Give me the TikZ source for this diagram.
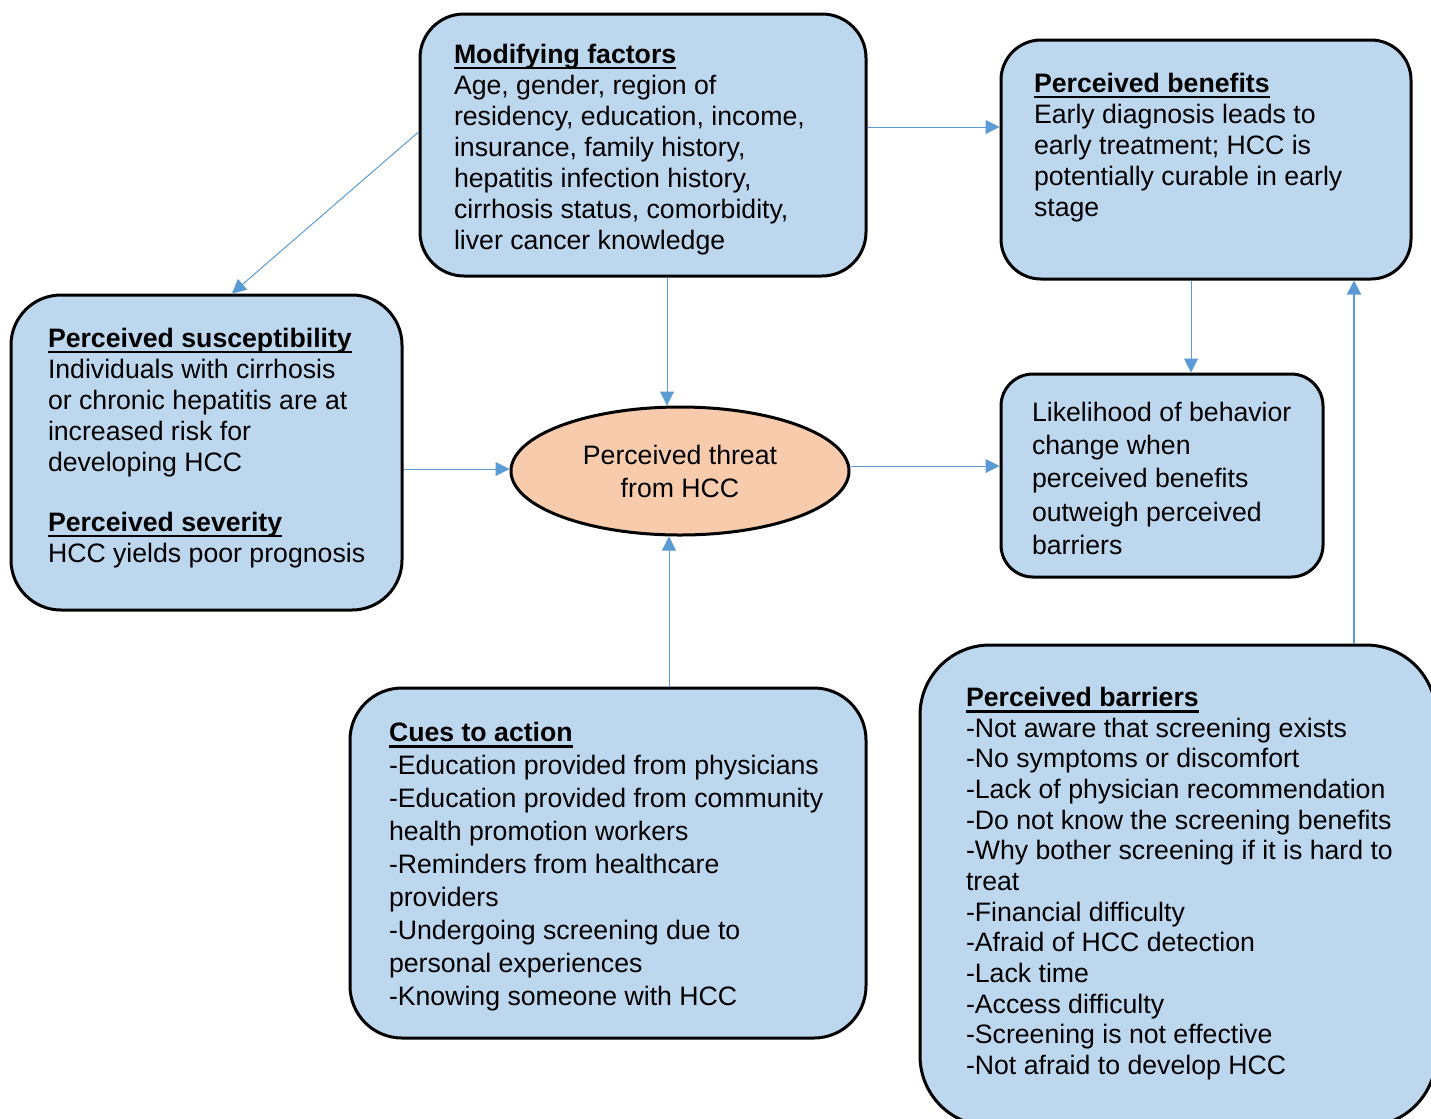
\documentclass[tikz,border=0pt]{standalone}
\usepackage{fontspec}
\setmainfont{Liberation Sans}
\usetikzlibrary{arrows.meta,shapes.geometric}

\definecolor{boxblue}{RGB}{189,215,238}
\definecolor{threatpeach}{RGB}{248,203,173}
\definecolor{lineblue}{RGB}{91,155,213}

\newsavebox{\headbox}
\newcommand{\heading}[1]{\sbox{\headbox}{\bfseries #1}\rlap{\rule[-4.5pt]{\wd\headbox}{1.8pt}}\usebox{\headbox}}

\tikzset{
	hbmbox/.style={draw=black, line width=2.25pt, fill=boxblue, rectangle, inner sep=0pt},
	hbmtext/.style={anchor=north west, inner sep=0pt, align=left, font=\fontsize{20}{23.25}\selectfont},
	hbmarrow/.style={draw=lineblue, line width=0.75pt, -{Triangle[length=10.5pt,width=10.5pt]}}}
\tikzset{every picture/.style={line width=0.75pt}}

\begin{document}
\begin{tikzpicture}[x=0.75pt,y=0.75pt,yscale=-1,xscale=1]
	\useasboundingbox (0,0) rectangle (1431,1118);
	\clip (0,0) rectangle (1431,1118);
	
	% Boxes
	\node[hbmbox, rounded corners=33pt, minimum width=334.5pt, minimum height=196.5pt] (modif) at (643,145) {};
	\node[hbmbox, rounded corners=30pt, minimum width=307.5pt, minimum height=179.25pt] (benef) at (1206,159.5) {};
	\node[hbmbox, rounded corners=37.5pt, minimum width=293.25pt, minimum height=236.25pt] (susc) at (206.5,452.5) {};
	\node[hbmbox, rounded corners=24pt, minimum width=241.5pt, minimum height=152.25pt] (likeli) at (1162,475.5) {};
	\node[hbmbox, rounded corners=39pt, minimum width=387pt, minimum height=262.5pt] (cues) at (608,863) {};
	\node[hbmbox, rounded corners=52.5pt, minimum width=387pt, minimum height=360.75pt] (barr) at (1178,885.5) {};
	% Ellipse
	\node[ellipse, draw=black, line width=2.25pt, fill=threatpeach, minimum width=253.5pt, minimum height=96pt, inner sep=0pt, align=center, font=\fontsize{20}{24.75}\selectfont] (threat) at (680,471) {Perceived threat\\from HCC};
	
	% Text Node
	\node[hbmtext] (modiftxt) at (453.5,42.5) {\rule{0pt}{15pt}\heading{Modifying factors}\\Age, gender, region of\\residency, education, income,\\insurance, family history,\\hepatitis infection history,\\cirrhosis status, comorbidity,\\liver cancer knowledge};
	% Text Node
	\node[hbmtext] (beneftxt) at (1033.5,71.5) {\rule{0pt}{15pt}\heading{Perceived benefits}\\Early diagnosis leads to\\early treatment; HCC is\\potentially curable in early\\stage};
	% Text Node
	\node[hbmtext] (susctxt) at (47.5,326.5) {\rule{0pt}{15pt}\heading{Perceived susceptibility}\\Individuals with cirrhosis\\or chronic hepatitis are at\\increased risk for\\developing HCC\\[21.75pt]\heading{Perceived severity}\\HCC yields poor prognosis};
	% Text Node
	\node[hbmtext, font=\fontsize{20}{25}\selectfont] (likelitxt) at (1031.5,400.5) {\rule{0pt}{15pt}Likelihood of behavior\\change when\\perceived benefits\\outweigh perceived\\barriers};
	% Text Node
	\node[hbmtext, font=\fontsize{20}{24.75}\selectfont] (cuestxt) at (388.5,721) {\rule{0pt}{15pt}\heading{Cues to action}\\-Education provided from physicians\\-Education provided from community\\health promotion workers\\-Reminders from healthcare\\providers\\-Undergoing screening due to\\personal experiences\\-Knowing someone with HCC};
	% Text Node
	\node[hbmtext, font=\fontsize{20}{23}\selectfont] (barrtxt) at (965.5,686) {\rule{0pt}{15pt}\heading{Perceived barriers}\\-Not aware that screening exists\\-No symptoms or discomfort\\-Lack of physician recommendation\\-Do not know the screening benefits\\-Why bother screening if it is hard to\\treat\\-Financial difficulty\\-Afraid of HCC detection\\-Lack time\\-Access difficulty\\-Screening is not effective\\-Not afraid to develop HCC};
	
	% Arrows
	\coordinate (diagx) at (232,132);
	\coordinate (topy) at (0,127);
	\coordinate (midx) at (667,0);
	\coordinate (lefty) at (0,469);
	\coordinate (righty) at (0,466);
	\coordinate (cuesx) at (669,0);
	\coordinate (benefx) at (1191,0);
	\coordinate (barrx) at (1354,0);
	\draw[hbmarrow] (modif.west |- diagx) -- (susc.north -| diagx);
	\draw[hbmarrow] (modif.east |- topy) -- (benef.west |- topy);
	\draw[hbmarrow] (modif.south -| midx) -- (threat.north -| midx);
	\draw[hbmarrow] (susc.east |- lefty) -- (threat.west |- lefty);
	\draw[hbmarrow] (threat.east |- righty) -- (likeli.west |- righty);
	\draw[hbmarrow] (cues.north -| cuesx) -- (threat.south -| cuesx);
	\draw[hbmarrow] (benef.south -| benefx) -- (likeli.north -| benefx);
	\draw[hbmarrow, line width=1.5pt] (barr.north -| barrx) -- (benef.south -| barrx);
	
\end{tikzpicture}
\end{document}
